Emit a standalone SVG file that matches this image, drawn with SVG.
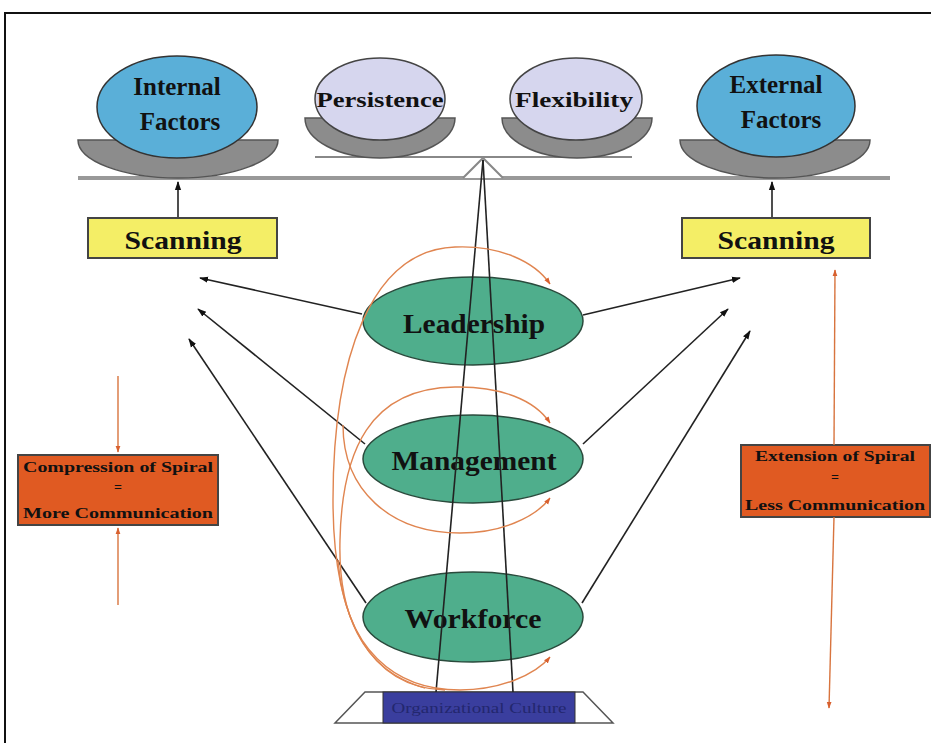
<svg xmlns="http://www.w3.org/2000/svg" width="931" height="743" viewBox="0 0 931 743">
<style>
.t{font-family:"Liberation Serif","Times New Roman",serif;font-weight:bold;fill:#111;text-anchor:middle}
.ball{fill:#5aafd8;stroke:#333;stroke-width:1.5}
.ball2{fill:#d6d6ee;stroke:#444;stroke-width:1.5}
.bowl{fill:#8c8c8c;stroke:#555;stroke-width:1.5}
.green{fill:#4fae8c;stroke:#2a4a3c;stroke-width:1.5}
.scan{fill:#f4ee66;stroke:#444;stroke-width:2}
.obox{fill:#e05a22;stroke:#444;stroke-width:2}
.blk{stroke:#222;stroke-width:1.6;fill:none}
.spi{stroke:#e08550;stroke-width:1.4;fill:none}
.ov{stroke:#d8743e;stroke-width:1.4;fill:none}
</style>
<defs>
<marker id="ab" viewBox="0 0 10 10" refX="9" refY="5" markerUnits="userSpaceOnUse" markerWidth="9" markerHeight="9" orient="auto"><path d="M0,1.5 L10,5 L0,8.5 z" fill="#111"/></marker>
<marker id="ao" viewBox="0 0 10 10" refX="9" refY="5" markerUnits="userSpaceOnUse" markerWidth="7" markerHeight="7" orient="auto"><path d="M0,1.5 L10,5 L0,8.5 z" fill="#d8602e"/></marker>
</defs>
<rect x="0" y="0" width="931" height="743" fill="#fff"/>
<rect x="5" y="13" width="960" height="760" fill="none" stroke="#111" stroke-width="2"/>

<g id="balance">
<line x1="78" y1="178" x2="890" y2="178" stroke="#999" stroke-width="4"/>
<line x1="315" y1="157" x2="632" y2="157" stroke="#888" stroke-width="2"/>
<path d="M463,178 L483,158 L503,178" fill="#fff" stroke="#888" stroke-width="2"/>
</g>

<g id="internal-factors">
<path class="bowl" d="M78,140 L278,140 A100,38 0 0 1 78,140 Z"/>
<ellipse class="ball" cx="177" cy="107" rx="80" ry="51"/>
<text class="t" x="177" y="95" font-size="25">Internal</text>
<text class="t" x="180" y="130" font-size="25">Factors</text>
</g>
<g id="persistence">
<path class="bowl" d="M305,118 L455,118 A75,40 0 0 1 305,118 Z"/>
<ellipse class="ball2" cx="380" cy="99" rx="65" ry="41"/>
<text class="t" x="380" y="107" font-size="21" textLength="127" lengthAdjust="spacingAndGlyphs">Persistence</text>
</g>
<g id="flexibility">
<path class="bowl" d="M502,118 L652,118 A75,40 0 0 1 502,118 Z"/>
<ellipse class="ball2" cx="576" cy="99" rx="66" ry="41"/>
<text class="t" x="574" y="107" font-size="21" textLength="118" lengthAdjust="spacingAndGlyphs">Flexibility</text>
</g>
<g id="external-factors">
<path class="bowl" d="M680,140 L870,140 A95,38 0 0 1 680,140 Z"/>
<ellipse class="ball" cx="776" cy="106" rx="79" ry="51"/>
<text class="t" x="776" y="93" font-size="25">External</text>
<text class="t" x="781" y="128" font-size="25">Factors</text>
</g>

<g id="scanning-left">
<rect class="scan" x="88" y="218" width="189" height="40"/>
<text class="t" x="183" y="249" font-size="26" textLength="117" lengthAdjust="spacingAndGlyphs">Scanning</text>
</g>
<g id="scanning-right">
<rect class="scan" x="682" y="218" width="188" height="40"/>
<text class="t" x="776" y="249" font-size="26" textLength="117" lengthAdjust="spacingAndGlyphs">Scanning</text>
</g>

<g id="culture">
<path d="M365,692 L583,692 L613,723 L335,723 Z" fill="#fff" stroke="#555" stroke-width="1.5"/>
<rect x="383" y="692" width="192" height="31" fill="#3a3e9e" stroke="#333" stroke-width="1"/>
<text x="479" y="713" font-family="Liberation Serif, serif" font-size="15" fill="#23276e" text-anchor="middle" textLength="175" lengthAdjust="spacingAndGlyphs">Organizational Culture</text>
</g>

<g id="leadership">
<ellipse class="green" cx="473" cy="321" rx="110" ry="44"/>
<text class="t" x="474" y="333" font-size="27" textLength="142" lengthAdjust="spacingAndGlyphs">Leadership</text>
</g>
<g id="management">
<ellipse class="green" cx="473" cy="459" rx="110" ry="44"/>
<text class="t" x="474" y="470" font-size="27" textLength="165" lengthAdjust="spacingAndGlyphs">Management</text>
</g>
<g id="workforce">
<ellipse class="green" cx="473" cy="617" rx="110" ry="45"/>
<text class="t" x="473" y="628" font-size="27" textLength="137" lengthAdjust="spacingAndGlyphs">Workforce</text>
</g>

<g id="compression">
<rect class="obox" x="18" y="455" width="200" height="70"/>
<text class="t" x="118" y="472" font-size="15" textLength="190" lengthAdjust="spacingAndGlyphs">Compression of Spiral</text>
<text class="t" x="118" y="492" font-size="14">=</text>
<text class="t" x="118" y="518" font-size="15" textLength="190" lengthAdjust="spacingAndGlyphs">More Communication</text>
</g>
<g id="extension">
<rect class="obox" x="741" y="445" width="189" height="72"/>
<text class="t" x="835" y="461" font-size="15" textLength="160" lengthAdjust="spacingAndGlyphs">Extension of Spiral</text>
<text class="t" x="835" y="482" font-size="14">=</text>
<text class="t" x="835" y="510" font-size="15" textLength="180" lengthAdjust="spacingAndGlyphs">Less Communication</text>
</g>

<g id="connectors">
<line class="blk" x1="178" y1="217" x2="178" y2="182" marker-end="url(#ab)"/>
<line class="blk" x1="772" y1="217" x2="772" y2="182" marker-end="url(#ab)"/>
<line x1="483" y1="160" x2="436" y2="692" stroke="#222" stroke-width="1.6"/>
<line x1="483" y1="160" x2="513" y2="692" stroke="#222" stroke-width="1.6"/>

<line class="blk" x1="362" y1="314" x2="200" y2="278" marker-end="url(#ab)"/>
<line class="blk" x1="365" y1="444" x2="198" y2="309" marker-end="url(#ab)"/>
<line class="blk" x1="366" y1="603" x2="189" y2="339" marker-end="url(#ab)"/>
<line class="blk" x1="583" y1="315" x2="740" y2="278" marker-end="url(#ab)"/>
<line class="blk" x1="583" y1="444" x2="728" y2="309" marker-end="url(#ab)"/>
<line class="blk" x1="582" y1="603" x2="750" y2="331" marker-end="url(#ab)"/>

<path class="spi" d="M445,690 C370,688 333,620 333,500 C333,360 370,250 455,247 C500,245 535,262 550,284" marker-end="url(#ao)"/>
<path class="spi" d="M425,688 C360,670 338,610 340,540 C342,450 370,388 455,387 C500,386 535,400 550,423" marker-end="url(#ao)"/>
<path class="spi" d="M343,425 C343,490 390,533 460,533 C500,533 535,518 550,498" marker-end="url(#ao)"/>
<path class="spi" d="M338,560 C345,650 395,690 460,690 C500,690 535,675 550,657" marker-end="url(#ao)"/>

<line class="ov" x1="118" y1="376" x2="118" y2="452" marker-end="url(#ao)"/>
<line class="ov" x1="118" y1="605" x2="118" y2="528" marker-end="url(#ao)"/>
<line class="ov" x1="834" y1="445" x2="835" y2="270" marker-end="url(#ao)"/>
<line class="ov" x1="834" y1="517" x2="829" y2="708" marker-end="url(#ao)"/>
</g>
</svg>
